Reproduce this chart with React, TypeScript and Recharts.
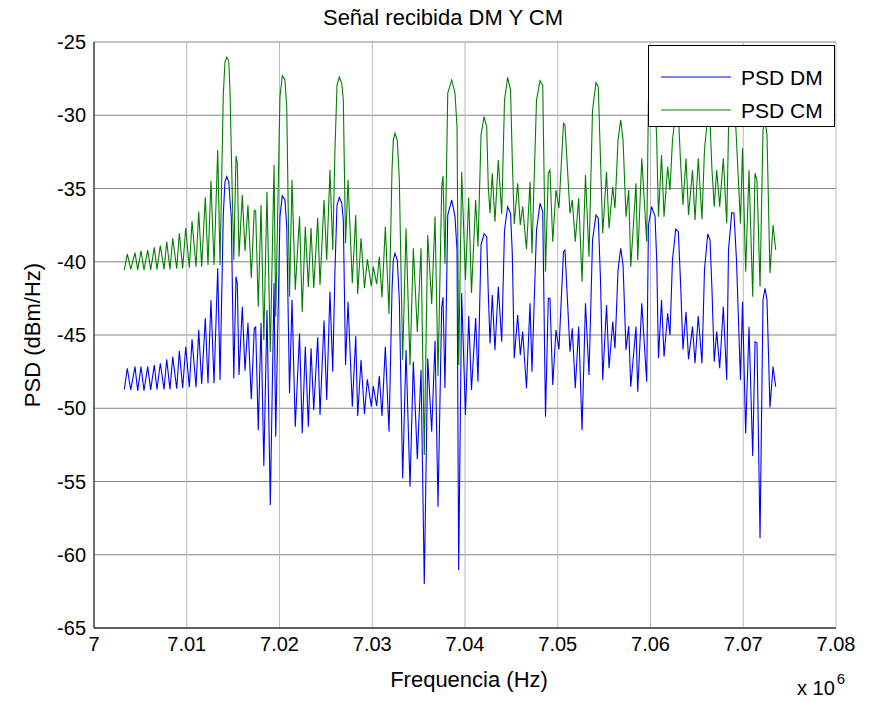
import React from 'react';
import { LineChart, Line, XAxis, YAxis, CartesianGrid } from 'recharts';

const freqMHz = [
  7.00327, 7.00359, 7.00396, 7.00442, 7.00471, 7.00507, 7.00539, 7.00579, 7.00611, 7.0065,
  7.00679, 7.00715, 7.00755, 7.00784, 7.00819, 7.00849, 7.00892, 7.0092, 7.00956, 7.00989,
  7.01028, 7.01057, 7.011, 7.01129, 7.01161, 7.012, 7.01229, 7.01261, 7.01294, 7.01334,
  7.01359, 7.01394, 7.01412, 7.01431, 7.01453, 7.01466, 7.0148, 7.01507, 7.01531, 7.01545,
  7.01563, 7.01599, 7.01628, 7.0166, 7.01696, 7.01728, 7.01743, 7.01771, 7.01801, 7.01831,
  7.01865, 7.01901, 7.01941, 7.01959, 7.02005, 7.0203, 7.02059, 7.02078, 7.02108, 7.02135,
  7.0217, 7.02216, 7.02245, 7.02278, 7.02311, 7.0234, 7.02369, 7.02412, 7.02437, 7.0248,
  7.02509, 7.02544, 7.02574, 7.02598, 7.0262, 7.02645, 7.02671, 7.02688, 7.02712, 7.02739,
  7.02785, 7.02822, 7.02843, 7.02879, 7.02916, 7.02947, 7.0299, 7.03011, 7.03048, 7.03076,
  7.03105, 7.03141, 7.03181, 7.03213, 7.03227, 7.03245, 7.0327, 7.03292, 7.03328, 7.03364,
  7.03407, 7.03443, 7.03486, 7.03526, 7.03561, 7.03598, 7.03641, 7.03677, 7.03709, 7.03749,
  7.03763, 7.03784, 7.03814, 7.03857, 7.03892, 7.03914, 7.03932, 7.03964, 7.04005, 7.0404,
  7.0407, 7.04115, 7.0414, 7.04173, 7.04205, 7.04234, 7.04251, 7.0427, 7.04294, 7.04323,
  7.04359, 7.04396, 7.04426, 7.0446, 7.04491, 7.0451, 7.04531, 7.04568, 7.04596, 7.04622,
  7.04663, 7.04701, 7.04722, 7.04771, 7.04809, 7.04838, 7.04868, 7.04898, 7.04916, 7.04946,
  7.04981, 7.05013, 7.05062, 7.05078, 7.05132, 7.05157, 7.05189, 7.05226, 7.05262, 7.05299,
  7.05337, 7.05375, 7.05412, 7.05437, 7.05461, 7.05485, 7.05526, 7.05553, 7.05593, 7.05617,
  7.0565, 7.05679, 7.05704, 7.05736, 7.05765, 7.05787, 7.05844, 7.05862, 7.05906, 7.05959,
  7.05978, 7.06013, 7.06049, 7.06067, 7.06086, 7.06119, 7.06146, 7.06185, 7.0621, 7.06237,
  7.06272, 7.063, 7.06323, 7.0635, 7.06383, 7.0641, 7.06453, 7.0648, 7.06515, 7.06555,
  7.06582, 7.06617, 7.06642, 7.06663, 7.06687, 7.06714, 7.06746, 7.06785, 7.06822, 7.06841,
  7.06876, 7.069, 7.06927, 7.0697, 7.06992, 7.07026, 7.07062, 7.07102, 7.07127, 7.07148,
  7.07181, 7.07213, 7.07235, 7.07256, 7.07288, 7.07321, 7.0735,
];

const psdDM = [
  -48.71, -47.27, -48.75, -47.16, -48.8, -47.16, -48.8, -47.16, -48.75, -47.05,
  -48.71, -46.93, -48.71, -46.66, -48.71, -46.48, -48.67, -46.09, -48.62, -45.8,
  -48.57, -45.29, -48.57, -44.66, -48.34, -43.86, -48.3, -42.61, -48.3, -40.45,
  -48.07, -36.81, -34.54, -34.19, -34.54, -35.78, -36.92, -47.96, -41.02, -41.47,
  -47.73, -43.07, -47.44, -44.16, -49.39, -44.54, -44.45, -51.48, -44.16, -53.94,
  -43.29, -56.6, -41.47, -51.94, -36.92, -35.49, -35.78, -37.61, -48.98, -42.61,
  -51.26, -44.88, -51.71, -45.8, -51.26, -45.91, -50.12, -45.16, -50.46, -44.02,
  -49.44, -42.04, -47.5, -40.56, -36.13, -35.6, -35.99, -37.15, -47.05, -42.73,
  -49.89, -45.07, -50.53, -46.71, -50.39, -48.02, -49.89, -48.48, -49.85, -47.8,
  -50.53, -45.8, -51.6, -41.93, -39.88, -39.42, -39.88, -42.61, -54.78, -46.02,
  -55.35, -46.82, -53.48, -47.39, -62.0, -46.59, -51.6, -45.39, -56.72, -43.07,
  -42.43, -48.62, -36.81, -35.78, -36.92, -39.2, -61.04, -42.13, -50.46, -43.7,
  -48.75, -43.84, -48.19, -38.86, -38.09, -38.29, -42.13, -45.57, -42.27, -46.02,
  -41.7, -45.46, -37.83, -36.24, -36.69, -39.42, -46.59, -43.64, -46.37, -44.77,
  -48.64, -42.84, -47.5, -37.83, -36.01, -36.58, -50.58, -42.5, -42.5, -48.41,
  -44.66, -45.98, -39.31, -39.2, -46.14, -44.54, -48.64, -44.43, -51.48, -42.84,
  -47.73, -38.52, -36.81, -37.03, -41.25, -48.07, -42.95, -47.27, -44.09, -45.91,
  -40.56, -39.08, -40.22, -46.02, -44.39, -48.53, -44.43, -48.87, -42.84, -48.19,
  -37.49, -36.24, -36.92, -39.88, -46.59, -42.61, -46.48, -43.52, -45.0, -39.88,
  -37.78, -37.95, -41.25, -45.98, -43.41, -46.66, -44.43, -46.93, -43.7, -46.93,
  -40.56, -38.11, -38.52, -41.93, -46.82, -44.77, -47.27, -43.07, -48.07, -39.2,
  -36.65, -36.69, -39.88, -48.07, -42.73, -51.71, -44.43, -53.26, -45.46, -45.55,
  -58.88, -42.61, -41.81, -42.61, -49.94, -47.16, -48.53,
];

const psdCM = [
  -40.56, -39.47, -40.52, -39.38, -40.56, -39.25, -40.56, -39.2, -40.56, -39.01,
  -40.52, -38.9, -40.52, -38.63, -40.52, -38.4, -40.47, -38.06, -40.45, -37.68,
  -40.41, -37.22, -40.34, -36.58, -40.34, -35.6, -40.22, -34.47, -40.22, -32.37,
  -40.22, -28.62, -26.37, -26.04, -26.3, -28.28, -32.37, -39.88, -32.78, -33.26,
  -39.66, -35.44, -39.27, -36.13, -41.11, -36.47, -36.54, -43.07, -36.13, -45.34,
  -35.22, -46.16, -33.4, -43.75, -28.75, -27.3, -27.59, -29.44, -42.39, -34.42,
  -41.93, -36.92, -43.41, -37.61, -41.72, -37.7, -41.79, -37.01, -41.59, -35.78,
  -39.88, -33.74, -39.2, -32.37, -27.94, -27.39, -27.8, -28.96, -38.74, -34.42,
  -41.47, -36.81, -42.2, -38.4, -41.81, -39.83, -41.66, -40.34, -41.52, -39.66,
  -42.43, -37.61, -43.57, -33.74, -31.69, -31.23, -31.69, -34.42, -46.71, -37.72,
  -47.05, -39.08, -44.8, -39.08, -53.19, -38.17, -42.88, -36.92, -47.8, -34.88,
  -34.15, -40.15, -28.48, -27.59, -28.48, -30.8, -47.05, -33.85, -41.25, -35.61,
  -42.13, -35.78, -38.97, -31.35, -30.1, -30.78, -34.88, -36.69, -33.96, -37.27,
  -33.05, -36.74, -28.96, -27.41, -28.28, -33.05, -37.42, -34.65, -37.49, -36.24,
  -39.15, -34.54, -39.42, -28.96, -27.64, -27.94, -40.68, -33.96, -33.74, -38.63,
  -35.1, -36.35, -30.55, -30.67, -36.69, -35.78, -38.63, -35.67, -41.36, -34.08,
  -39.66, -29.64, -27.78, -28.05, -33.05, -38.06, -33.85, -37.72, -34.88, -36.35,
  -31.69, -30.32, -31.69, -36.92, -35.1, -40.34, -34.65, -39.88, -32.94, -38.63,
  -28.96, -28.07, -28.75, -31.69, -36.92, -32.71, -36.92, -33.51, -35.1, -31.69,
  -29.71, -29.85, -33.05, -36.13, -32.94, -36.81, -33.74, -37.15, -32.94, -37.1,
  -32.37, -30.05, -30.46, -33.74, -36.24, -33.74, -36.24, -32.94, -37.38, -31.01,
  -28.62, -28.62, -31.69, -37.38, -32.26, -40.68, -33.74, -42.39, -33.96, -34.42,
  -41.7, -31.01, -30.26, -31.35, -40.79, -37.49, -39.2,
];

const xTicks = [7, 7.01, 7.02, 7.03, 7.04, 7.05, 7.06, 7.07, 7.08];
const yTicks = [-65, -60, -55, -50, -45, -40, -35, -30, -25];
const seriesNames = ['PSD DM', 'PSD CM'];
const seriesColors = ['#0000ff', '#008000'];
const titleText = 'Señal recibida DM Y CM';
const xLabel = 'Frequencia (Hz)';
const yLabel = 'PSD (dBm/Hz)';

const FONT = '"Liberation Sans", Arial, Helvetica, sans-serif';

const fmtX = (v: number) => (Math.abs(v - 7) < 1e-9 ? '7' : v.toFixed(2));
const blank = () => '';

export default function App() {
  const data = freqMHz.map((f, i) => ({ f, dm: psdDM[i], cm: psdCM[i] }));
  const txt: React.CSSProperties = {
    position: 'absolute',
    whiteSpace: 'nowrap',
    lineHeight: 1,
    color: '#000',
    transform: 'translate(-50%, -50%)',
  };
  return (
    <div style={{ position: 'relative', width: 874, height: 687, fontFamily: FONT, background: '#fff' }}>
      <LineChart
        width={874}
        height={687}
        data={data}
        margin={{ top: 34, right: 46, left: 0, bottom: 37 }}
        style={{ fontFamily: FONT }}
      >
        <CartesianGrid vertical={false} stroke="#858585" />
        <CartesianGrid horizontal={false} stroke="#b8b8b8" />
        <XAxis
          dataKey="f"
          type="number"
          domain={[7, 7.08]}
          ticks={xTicks}
          interval={0}
          allowDataOverflow
          tickFormatter={fmtX}
          height={30}
          tickLine={false}
          tickSize={0}
          tickMargin={9}
          stroke="#000"
          tick={{ fill: '#000', fontSize: 20 }}
        />
        <XAxis
          xAxisId="top"
          orientation="top"
          dataKey="f"
          type="number"
          domain={[7, 7.08]}
          ticks={xTicks}
          interval={0}
          allowDataOverflow
          tickFormatter={blank}
          tickLine={false}
          height={0}
          stroke="#000"
        />
        <YAxis
          type="number"
          domain={[-65, -25]}
          ticks={yTicks}
          interval={0}
          allowDataOverflow
          width={86}
          tickLine={false}
          tickSize={0}
          tickMargin={8}
          stroke="#000"
          tick={{ fill: '#000', fontSize: 20 }}
        />
        <YAxis
          yAxisId="right"
          orientation="right"
          type="number"
          domain={[-65, -25]}
          ticks={yTicks}
          interval={0}
          allowDataOverflow
          width={0}
          tickLine={false}
          tickFormatter={blank}
          stroke="#000"
        />
        <Line
          dataKey="dm"
          name={seriesNames[0]}
          type="linear"
          stroke={seriesColors[0]}
          strokeWidth={1.1}
          dot={false}
          activeDot={false}
          isAnimationActive={false}
        />
        <Line
          dataKey="cm"
          name={seriesNames[1]}
          type="linear"
          stroke={seriesColors[1]}
          strokeWidth={1.1}
          dot={false}
          activeDot={false}
          isAnimationActive={false}
        />
      </LineChart>

      <div style={{ ...txt, left: 435, top: 10, fontSize: 22 }}>{titleText}</div>
      <div style={{ ...txt, left: 461, top: 672, fontSize: 22 }}>{xLabel}</div>
      <div style={{ ...txt, left: 25, top: 327, fontSize: 22, transform: 'translate(-50%, -50%) rotate(-90deg)' }}>
        {yLabel}
      </div>
      <div style={{ position: 'absolute', left: 789, top: 670, fontSize: 20, lineHeight: 1, whiteSpace: 'nowrap' }}>
        x 10<span style={{ position: 'relative', top: -11, fontSize: 15, marginLeft: 2 }}>6</span>
      </div>

      <div
        style={{
          position: 'absolute',
          left: 640,
          top: 37,
          width: 187,
          height: 82,
          border: '1px solid #000',
          background: '#fff',
          boxSizing: 'border-box',
        }}
      >
        {seriesNames.map((name, i) => (
          <div key={name} style={{ position: 'absolute', left: 0, top: i === 0 ? 31 : 64, width: '100%' }}>
            <svg width={90} height={4} style={{ position: 'absolute', left: 0, top: -2 }}>
              <line x1={12} y1={2} x2={82} y2={2} stroke={seriesColors[i]} strokeWidth={1.2} />
            </svg>
            <span style={{ ...txt, transform: 'translate(0, -50%)', left: 92, top: 0, fontSize: 21 }}>{name}</span>
          </div>
        ))}
      </div>
    </div>
  );
}
